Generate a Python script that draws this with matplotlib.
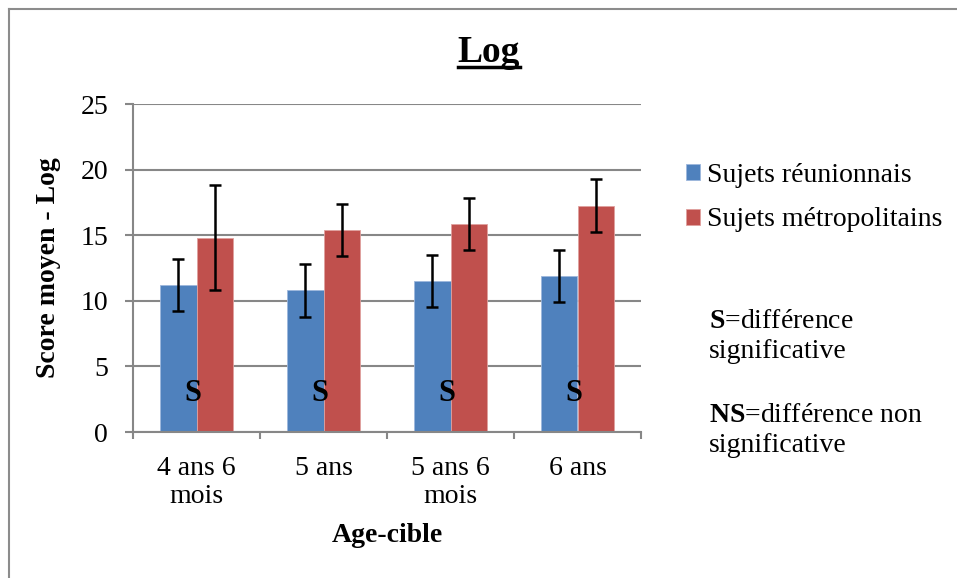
import numpy as np
import matplotlib
matplotlib.use("Agg")
import matplotlib.pyplot as plt
from matplotlib.lines import Line2D

plt.rcParams['font.family'] = ['Liberation Serif', 'DejaVu Serif']
plt.rcParams['mathtext.fontset'] = 'custom'
plt.rcParams['mathtext.rm'] = 'Liberation Serif'
plt.rcParams['mathtext.bf'] = 'Liberation Serif:bold'

categories = ['4 ans 6\nmois', '5 ans', '5 ans 6\nmois', '6 ans']
reunion = [11.2, 10.8, 11.5, 11.9]
reunion_err = [2.0, 2.0, 2.0, 2.0]
metro = [14.8, 15.4, 15.85, 17.25]
metro_err = [4.0, 2.0, 2.0, 2.0]
signif = ['S', 'S', 'S', 'S']

blue = '#4F81BD'
red = '#C0504D'
grid_col = '#878787'

W, H = 957, 578
fig = plt.figure(figsize=(W / 100, H / 100), dpi=100)
ax = fig.add_axes([133 / W, 1 - 432 / H, (641 - 133) / W, (432 - 104) / H])

x = np.arange(len(categories))
bw = 0.287
ax.bar(x - bw / 2, reunion, bw, color=blue, edgecolor='#9db7dc', linewidth=0.6,
       label='Sujets réunionnais', zorder=2)
ax.bar(x + bw / 2, metro, bw, color=red, edgecolor='#e0a09e', linewidth=0.6,
       label='Sujets métropolitains', zorder=2)
ax.errorbar(x - bw / 2, reunion, yerr=reunion_err, fmt='none', ecolor='black',
            elinewidth=1.8, capsize=4, capthick=1.8, zorder=3)
ax.errorbar(x + bw / 2, metro, yerr=metro_err, fmt='none', ecolor='black',
            elinewidth=1.8, capsize=4, capthick=1.8, zorder=3)

# significance letters at the foot of each group
for i, s in enumerate(signif):
    ax.text(x[i] - 0.03, 2.9, s, ha='center', va='center', fontsize=22,
            fontweight='bold', zorder=4)

ax.set_xlim(-0.5, len(categories) - 0.5)
ax.set_ylim(0, 25)
ax.set_yticks(np.arange(0, 26, 5))
ax.yaxis.grid(True, color=grid_col, linewidth=1.5, zorder=0)
ax.set_axisbelow(True)
for sp in ['top', 'right']:
    ax.spines[sp].set_visible(False)
for sp in ['left', 'bottom']:
    ax.spines[sp].set_color(grid_col)
    ax.spines[sp].set_linewidth(1.5)

ax.set_xticks(x)
ax.set_xticklabels(categories, fontsize=20, linespacing=1.2)
ax.set_xticks(np.arange(-0.5, len(categories)), minor=True)
ax.tick_params(axis='x', which='major', length=0, pad=17)
ax.tick_params(axis='x', which='minor', length=5, width=1.5, color=grid_col)
ax.tick_params(axis='y', labelsize=20, length=6, width=1.5, color=grid_col, pad=12)

ax.set_xlabel('Age-cible', fontsize=20, fontweight='bold', labelpad=10)
ax.set_ylabel('Score moyen - Log', fontsize=20, fontweight='bold', labelpad=14)

# title with underline
t = fig.text(489 / W, 1 - 52 / H, 'Log', ha='center', va='center', fontsize=27,
             fontweight='bold')
fig.canvas.draw()
bb = t.get_window_extent(fig.canvas.get_renderer())
uy = bb.y0 + 0.08 * bb.height
fig.add_artist(Line2D([bb.x0 / W, bb.x1 / W], [uy / H, uy / H], color='black',
                      linewidth=2.5, transform=fig.transFigure))

leg = fig.legend(loc='upper left', bbox_to_anchor=(686 / W, 1 - 163 / H),
                 frameon=False, fontsize=20, handlelength=0.5, handleheight=0.5,
                 handletextpad=0.25, labelspacing=0.7, borderaxespad=0, borderpad=0)

# notes
fig.text(709 / W, 1 - 321 / H, r'$\mathbf{S}$=différence', fontsize=20, va='center')
fig.text(709 / W, 1 - 351 / H, 'significative', fontsize=20, va='center')
fig.text(709 / W, 1 - 415 / H, r'$\mathbf{NS}$=différence non', fontsize=20, va='center')
fig.text(709 / W, 1 - 446 / H, 'significative', fontsize=20, va='center')

# outer frame (left and top edges visible)
fig.add_artist(Line2D([8.5 / W, 8.5 / W], [0, 1 - 8.5 / H], color='#8c8c8c',
                      linewidth=1.5, transform=fig.transFigure))
fig.add_artist(Line2D([8.5 / W, 1], [1 - 8.5 / H, 1 - 8.5 / H], color='#8c8c8c',
                      linewidth=1.5, transform=fig.transFigure))

fig.savefig('out.png', dpi=100)
